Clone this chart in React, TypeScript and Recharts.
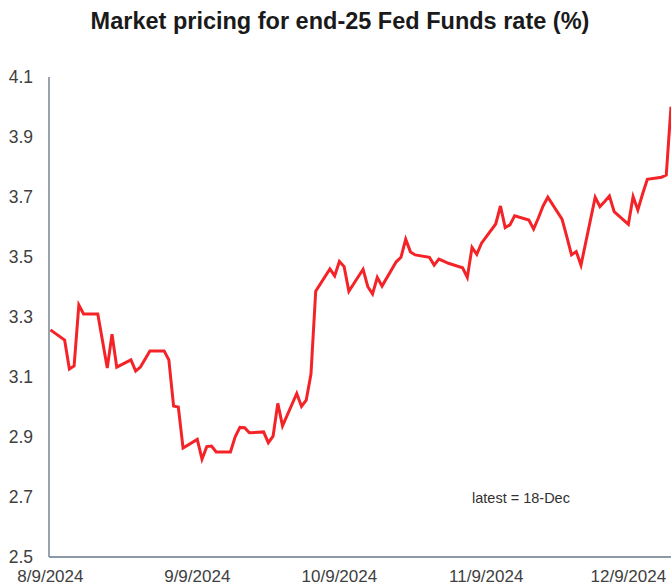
import React from "react";
import { LineChart, Line, XAxis, YAxis } from "recharts";

const dates: string[] = [
  "2024-08-09", "2024-08-12", "2024-08-13", "2024-08-14", "2024-08-15", "2024-08-16",
  "2024-08-19", "2024-08-20", "2024-08-21", "2024-08-22", "2024-08-23",
  "2024-08-26", "2024-08-27", "2024-08-28", "2024-08-29", "2024-08-30",
  "2024-09-02", "2024-09-03", "2024-09-04", "2024-09-05", "2024-09-06",
  "2024-09-09", "2024-09-10", "2024-09-11", "2024-09-12", "2024-09-13",
  "2024-09-16", "2024-09-17", "2024-09-18", "2024-09-19", "2024-09-20",
  "2024-09-23", "2024-09-24", "2024-09-25", "2024-09-26", "2024-09-27",
  "2024-09-30", "2024-10-01", "2024-10-02", "2024-10-03", "2024-10-04",
  "2024-10-07", "2024-10-08", "2024-10-09", "2024-10-10", "2024-10-11",
  "2024-10-14", "2024-10-15", "2024-10-16", "2024-10-17", "2024-10-18",
  "2024-10-21", "2024-10-22", "2024-10-23", "2024-10-24", "2024-10-25",
  "2024-10-28", "2024-10-29", "2024-10-30", "2024-10-31", "2024-11-01",
  "2024-11-04", "2024-11-05", "2024-11-06", "2024-11-07", "2024-11-08",
  "2024-11-11", "2024-11-12", "2024-11-13", "2024-11-14", "2024-11-15",
  "2024-11-18", "2024-11-19", "2024-11-20", "2024-11-21", "2024-11-22",
  "2024-11-25", "2024-11-26", "2024-11-27", "2024-11-28", "2024-11-29",
  "2024-12-02", "2024-12-03", "2024-12-04", "2024-12-05", "2024-12-06",
  "2024-12-09", "2024-12-10", "2024-12-11", "2024-12-12", "2024-12-13",
  "2024-12-16", "2024-12-17", "2024-12-18",
];

const rates: number[] = [
  3.257, 3.223, 3.127, 3.137, 3.34, 3.31,
  3.31, 3.22, 3.13, 3.243, 3.133,
  3.157, 3.12, 3.133, 3.16, 3.187,
  3.187, 3.157, 3.003, 3.0, 2.863,
  2.892, 2.826, 2.868, 2.87, 2.85,
  2.85, 2.901, 2.932, 2.931, 2.914,
  2.917, 2.881, 2.903, 3.012, 2.937,
  3.045, 3.002, 3.023, 3.11, 3.386,
  3.46, 3.437, 3.485, 3.468, 3.386,
  3.459, 3.401, 3.377, 3.432, 3.403,
  3.484, 3.499, 3.559, 3.517, 3.507,
  3.499, 3.473, 3.493, 3.486, 3.479,
  3.464, 3.432, 3.532, 3.509, 3.546,
  3.61, 3.67, 3.598, 3.607, 3.637,
  3.623, 3.593, 3.63, 3.67, 3.699,
  3.626, 3.568, 3.507, 3.518, 3.473,
  3.699, 3.668, 3.685, 3.703, 3.651,
  3.609, 3.701, 3.657, 3.71, 3.759,
  3.766, 3.773, 4.001,
];

const tickDates: string[] = ["2024-08-09", "2024-09-09", "2024-10-09", "2024-11-09", "2024-12-09"];
const tickLabels: string[] = ["8/9/2024", "9/9/2024", "10/9/2024", "11/9/2024", "12/9/2024"];
const yTicks: number[] = [2.5, 2.7, 2.9, 3.1, 3.3, 3.5, 3.7, 3.9, 4.1];

const title = "Market pricing for end-25 Fed Funds rate (%)";
const note = "latest = 18-Dec";

const origin = Date.UTC(2024, 7, 9);
const toDay = (s: string): number => {
  const [y, m, d] = s.split("-").map(Number);
  return Math.round((Date.UTC(y, m - 1, d) - origin) / 86400000);
};

const data = dates.map((d, i) => ({ day: toDay(d), rate: rates[i] }));
const tickDays = tickDates.map(toDay);
const labelFor = (v: number): string => {
  const i = tickDays.indexOf(v);
  return i >= 0 ? tickLabels[i] : "";
};

const axisColor = "#8c99a6";
const textColor = "#404040";
const font = "'Liberation Sans', Arial, sans-serif";

export default function App() {
  return (
    <div style={{ position: "absolute", left: 0, top: 0, width: 672, height: 586, background: "#fff" }}>
      <div
        style={{
          position: "absolute",
          left: 0,
          width: 680,
          top: 6,
          textAlign: "center",
          fontFamily: font,
          fontWeight: "bold",
          fontSize: 23.5,
          color: "#1a1a1a",
          lineHeight: "30px",
          whiteSpace: "nowrap",
        }}
      >
        {title}
      </div>
      <LineChart
        width={672}
        height={586}
        data={data}
        margin={{ top: 77, right: 1, left: 0, bottom: 0 }}
      >
        <XAxis
          dataKey="day"
          type="number"
          domain={[-0.3, 131]}
          allowDataOverflow
          ticks={tickDays}
          interval={0}
          tickFormatter={labelFor}
          tickLine={false}
          tickSize={0}
          tickMargin={13}
          height={29}
          axisLine={{ stroke: axisColor, strokeWidth: 1.8 }}
          tick={{ fill: textColor, fontSize: 17, fontFamily: font }}
        />
        <YAxis
          type="number"
          domain={[2.5, 4.1]}
          ticks={yTicks}
          interval={0}
          width={49}
          tickLine={false}
          tickSize={0}
          tickMargin={16}
          tickFormatter={(v: number) => v.toFixed(1)}
          axisLine={{ stroke: axisColor, strokeWidth: 1.8 }}
          tick={{ fill: textColor, fontSize: 17.5, fontFamily: font }}
        />
        <Line
          type="linear"
          dataKey="rate"
          stroke="#f42328"
          strokeWidth={3}
          dot={false}
          activeDot={false}
          isAnimationActive={false}
        />
      </LineChart>
      <div
        style={{
          position: "absolute",
          left: 472,
          top: 489,
          fontFamily: font,
          fontSize: 14.5,
          color: "#303030",
          whiteSpace: "nowrap",
          lineHeight: "18px",
        }}
      >
        {note}
      </div>
    </div>
  );
}
